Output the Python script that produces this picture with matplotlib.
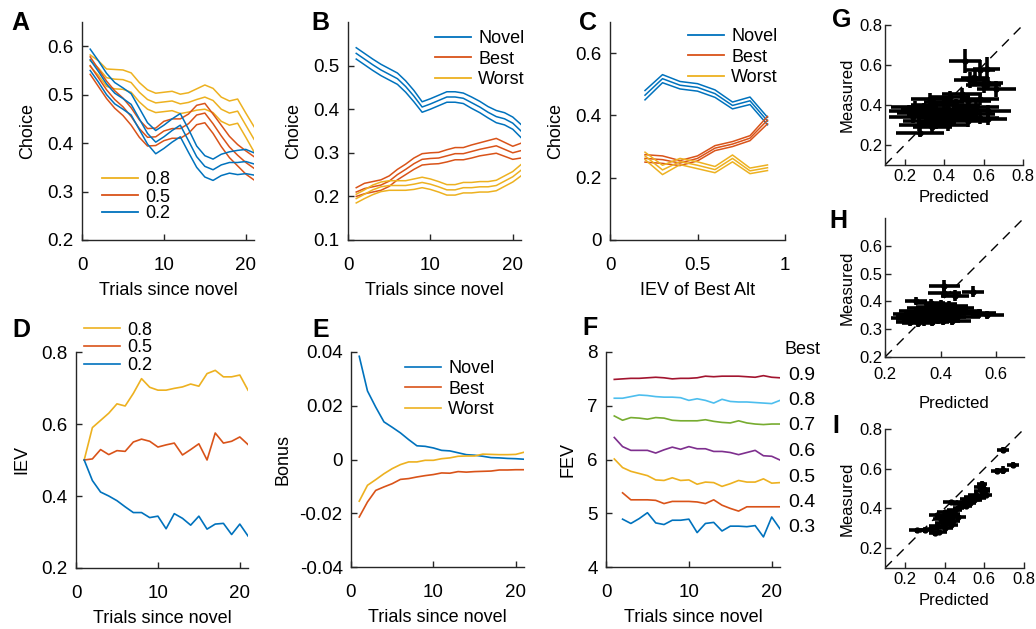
import matplotlib
matplotlib.use('Agg')
import matplotlib.pyplot as plt
from matplotlib.ticker import FuncFormatter
import numpy as np

plt.rcParams['font.family'] = ['Liberation Sans', 'DejaVu Sans']

BLUE = '#0072BD'
RED = '#D95319'
YELLOW = '#EDB120'
PURPLE = '#7E2F8E'
GREEN = '#77AC30'
LBLUE = '#4DBEEE'
DRED = '#A2142F'

trials = list(range(1, 22))

# panel A: choice of novel option by IEV of best alternative (mean +- se)
a_labels = ['0.8', '0.5', '0.2']
a_08 = [0.570, 0.555, 0.535, 0.532, 0.531, 0.525, 0.505, 0.490, 0.483, 0.485, 0.487,
        0.481, 0.484, 0.490, 0.495, 0.488, 0.470, 0.462, 0.466, 0.437, 0.408]
a_08_se = [0.012, 0.015, 0.018, 0.020, 0.020, 0.020, 0.020, 0.020, 0.020, 0.020, 0.020,
           0.020, 0.020, 0.022, 0.025, 0.025, 0.025, 0.025, 0.025, 0.025, 0.026]
a_05 = [0.560, 0.535, 0.510, 0.490, 0.475, 0.455, 0.430, 0.412, 0.413, 0.425, 0.430,
        0.430, 0.440, 0.458, 0.462, 0.440, 0.415, 0.392, 0.375, 0.360, 0.348]
a_05_se = [0.018, 0.018, 0.018, 0.018, 0.018, 0.018, 0.018, 0.018, 0.018, 0.020, 0.020,
           0.020, 0.020, 0.020, 0.020, 0.020, 0.022, 0.022, 0.022, 0.024, 0.024]
a_02 = [0.572, 0.548, 0.522, 0.503, 0.492, 0.480, 0.450, 0.420, 0.402, 0.413, 0.426,
        0.437, 0.405, 0.372, 0.352, 0.345, 0.355, 0.360, 0.360, 0.362, 0.357]
a_02_se = [0.022, 0.022, 0.022, 0.022, 0.022, 0.022, 0.022, 0.022, 0.024, 0.024, 0.024,
           0.024, 0.024, 0.022, 0.022, 0.022, 0.022, 0.022, 0.025, 0.025, 0.023]

# panel B: choice by option type
b_novel = [0.528, 0.515, 0.502, 0.490, 0.480, 0.470, 0.452, 0.430, 0.405, 0.412, 0.420,
           0.428, 0.428, 0.425, 0.415, 0.405, 0.393, 0.383, 0.378, 0.368, 0.350]
b_novel_se = [0.013, 0.013, 0.013, 0.013, 0.013, 0.013, 0.013, 0.013, 0.012, 0.012, 0.012,
              0.012, 0.012, 0.012, 0.013, 0.013, 0.013, 0.014, 0.014, 0.014, 0.015]
b_best = [0.210, 0.218, 0.222, 0.226, 0.235, 0.250, 0.262, 0.275, 0.285, 0.287, 0.288,
          0.293, 0.298, 0.298, 0.303, 0.308, 0.312, 0.316, 0.308, 0.300, 0.305]
b_best_se = [0.010, 0.012, 0.012, 0.012, 0.012, 0.012, 0.012, 0.013, 0.013, 0.013, 0.013,
             0.014, 0.014, 0.014, 0.015, 0.015, 0.016, 0.017, 0.016, 0.015, 0.017]
b_worst = [0.195, 0.205, 0.215, 0.222, 0.225, 0.225, 0.225, 0.228, 0.232, 0.228, 0.222,
           0.215, 0.215, 0.220, 0.220, 0.222, 0.222, 0.225, 0.235, 0.245, 0.260]
b_worst_se = [0.010, 0.010, 0.011, 0.011, 0.011, 0.011, 0.011, 0.012, 0.012, 0.012, 0.012,
              0.012, 0.012, 0.012, 0.012, 0.012, 0.012, 0.012, 0.012, 0.012, 0.013]

# panel C: choice vs IEV of best alternative
c_iev = [0.2, 0.3, 0.4, 0.5, 0.6, 0.7, 0.8, 0.9]
c_novel = [0.465, 0.518, 0.497, 0.490, 0.470, 0.432, 0.447, 0.382]
c_novel_se = [0.015, 0.013, 0.012, 0.012, 0.012, 0.011, 0.012, 0.012]
c_best = [0.262, 0.258, 0.247, 0.262, 0.295, 0.308, 0.327, 0.385]
c_best_se = [0.012, 0.012, 0.008, 0.008, 0.008, 0.008, 0.008, 0.012]
c_worst = [0.270, 0.225, 0.252, 0.240, 0.226, 0.262, 0.222, 0.232]
c_worst_se = [0.012, 0.015, 0.010, 0.011, 0.010, 0.011, 0.009, 0.009]

option_labels = ['Novel', 'Best', 'Worst']

# panel D: IEV of novel option
d_08 = [0.500, 0.590, 0.610, 0.630, 0.656, 0.650, 0.685, 0.726, 0.702, 0.694, 0.694,
        0.699, 0.703, 0.711, 0.705, 0.740, 0.749, 0.731, 0.731, 0.736, 0.694]
d_05 = [0.500, 0.503, 0.529, 0.515, 0.526, 0.524, 0.550, 0.558, 0.552, 0.536, 0.542,
        0.547, 0.514, 0.529, 0.545, 0.500, 0.575, 0.547, 0.552, 0.564, 0.543]
d_02 = [0.500, 0.443, 0.411, 0.400, 0.387, 0.370, 0.354, 0.354, 0.340, 0.344, 0.309,
        0.351, 0.338, 0.319, 0.344, 0.308, 0.322, 0.324, 0.293, 0.322, 0.289]

# panel E: exploration bonus
e_novel = [0.0384, 0.0255, 0.0195, 0.0140, 0.0120, 0.0099, 0.0074, 0.0051, 0.0049, 0.0043, 0.0034,
           0.0032, 0.0025, 0.0018, 0.0016, 0.0012, 0.0007, 0.0006, 0.0004, 0.0003, 0.0001]
e_best = [-0.0214, -0.0158, -0.0115, -0.0102, -0.0090, -0.0074, -0.0071, -0.0065, -0.0060, -0.0056, -0.0050,
          -0.0051, -0.0045, -0.0047, -0.0045, -0.0044, -0.0043, -0.0039, -0.0039, -0.0038, -0.0038]
e_worst = [-0.0155, -0.0096, -0.0075, -0.0053, -0.0034, -0.0019, -0.0009, -0.0009, -0.0003, -0.0003, 0.0003,
           0.0006, 0.0012, 0.0013, 0.0013, 0.0020, 0.0019, 0.0018, 0.0018, 0.0019, 0.0027]

# panel F: FEV by IEV of best alternative
f_labels = ['0.9', '0.8', '0.7', '0.6', '0.5', '0.4', '0.3']
f_09 = [7.49, 7.50, 7.51, 7.51, 7.52, 7.53, 7.52, 7.50, 7.51, 7.51, 7.52,
        7.55, 7.54, 7.55, 7.55, 7.55, 7.54, 7.53, 7.56, 7.53, 7.52]
f_08 = [7.14, 7.14, 7.17, 7.20, 7.19, 7.17, 7.16, 7.16, 7.15, 7.10, 7.13,
        7.10, 7.05, 7.12, 7.08, 7.07, 7.07, 7.06, 7.05, 7.04, 7.10]
f_07 = [6.81, 6.73, 6.78, 6.77, 6.75, 6.78, 6.77, 6.73, 6.72, 6.72, 6.72,
        6.74, 6.71, 6.69, 6.68, 6.72, 6.68, 6.66, 6.65, 6.66, 6.66]
f_06 = [6.41, 6.24, 6.17, 6.17, 6.17, 6.12, 6.18, 6.23, 6.19, 6.24, 6.20,
        6.20, 6.15, 6.15, 6.13, 6.09, 6.13, 6.17, 6.07, 6.06, 5.99]
f_05 = [6.01, 5.85, 5.78, 5.74, 5.70, 5.62, 5.61, 5.66, 5.61, 5.62, 5.54,
        5.58, 5.57, 5.50, 5.55, 5.61, 5.58, 5.58, 5.64, 5.56, 5.57]
f_04 = [np.nan, 5.38, 5.25, 5.25, 5.25, 5.24, 5.18, 5.22, 5.22, 5.22, 5.21,
        5.18, 5.25, 5.15, 5.09, 5.04, 5.12, 5.12, 5.12, 5.12, 5.12]
f_03 = [np.nan, 4.89, 4.81, 4.90, 5.01, 4.82, 4.79, 4.87, 4.87, 4.89, 4.64,
        4.81, 4.83, 4.67, 4.76, 4.76, 4.75, 4.77, 4.56, 4.93, 4.71]

# panel G: predicted vs measured
g_pred = [0.505, 0.580, 0.615, 0.530, 0.555, 0.600, 0.665, 0.620, 0.277, 0.490, 0.430,
          0.330, 0.580, 0.520, 0.400, 0.460, 0.350, 0.250, 0.560, 0.300, 0.420, 0.500,
          0.220, 0.360, 0.620, 0.450, 0.280, 0.400, 0.540, 0.330, 0.470, 0.240, 0.380,
          0.580, 0.440, 0.310, 0.520, 0.360, 0.620, 0.270, 0.420, 0.340]
g_meas = [0.620, 0.575, 0.580, 0.525, 0.535, 0.500, 0.480, 0.510, 0.260, 0.455, 0.440,
          0.430, 0.430, 0.420, 0.415, 0.400, 0.400, 0.390, 0.390, 0.380, 0.380, 0.375,
          0.370, 0.370, 0.370, 0.365, 0.360, 0.355, 0.355, 0.350, 0.345, 0.340, 0.335,
          0.335, 0.325, 0.320, 0.320, 0.310, 0.330, 0.300, 0.300, 0.290]
g_pred_err = [0.08, 0.08, 0.07, 0.08, 0.07, 0.09, 0.10, 0.08, 0.12, 0.10, 0.10,
              0.10, 0.10, 0.12, 0.10, 0.12, 0.12, 0.12, 0.12, 0.12, 0.11, 0.12,
              0.10, 0.12, 0.12, 0.12, 0.12, 0.12, 0.12, 0.12, 0.10, 0.12, 0.12,
              0.10, 0.12, 0.12, 0.10, 0.10, 0.10, 0.10, 0.10, 0.10]
g_meas_err = [0.06, 0.05, 0.06, 0.04, 0.04, 0.04, 0.04, 0.03, 0.02, 0.03, 0.03,
              0.03, 0.03, 0.03, 0.03, 0.03, 0.03, 0.03, 0.03, 0.03, 0.03, 0.03,
              0.03, 0.03, 0.03, 0.03, 0.03, 0.03, 0.03, 0.03, 0.03, 0.03, 0.03,
              0.03, 0.03, 0.03, 0.03, 0.03, 0.03, 0.03, 0.03, 0.03]

# panel H
h_pred = [0.413, 0.516, 0.413, 0.453, 0.311, 0.367, 0.539, 0.568, 0.400, 0.430, 0.380,
          0.450, 0.350, 0.420, 0.310, 0.390, 0.470, 0.340, 0.280, 0.430, 0.370, 0.300,
          0.410, 0.330, 0.460, 0.270, 0.360, 0.390, 0.310, 0.440, 0.340, 0.290, 0.370,
          0.320, 0.410]
h_meas = [0.456, 0.435, 0.432, 0.420, 0.402, 0.393, 0.357, 0.351, 0.390, 0.385, 0.380,
          0.375, 0.375, 0.370, 0.365, 0.365, 0.365, 0.360, 0.355, 0.355, 0.350, 0.348,
          0.345, 0.345, 0.345, 0.340, 0.338, 0.335, 0.335, 0.330, 0.328, 0.325, 0.325,
          0.322, 0.330]
h_pred_err = [0.055, 0.040, 0.060, 0.050, 0.040, 0.050, 0.060, 0.060, 0.060, 0.070, 0.070,
              0.070, 0.070, 0.080, 0.060, 0.080, 0.080, 0.070, 0.050, 0.090, 0.080, 0.060,
              0.080, 0.070, 0.080, 0.050, 0.070, 0.070, 0.070, 0.070, 0.070, 0.050, 0.060,
              0.060, 0.060]
h_meas_err = [0.020, 0.020, 0.020, 0.020, 0.015, 0.015, 0.015, 0.015, 0.015, 0.015, 0.015,
              0.015, 0.015, 0.015, 0.015, 0.015, 0.015, 0.015, 0.015, 0.015, 0.015, 0.015,
              0.015, 0.015, 0.015, 0.015, 0.015, 0.015, 0.015, 0.015, 0.015, 0.015, 0.015,
              0.015, 0.015]

# panel I
i_pred = [0.696, 0.665, 0.696, 0.746, 0.590, 0.580, 0.600, 0.590, 0.610, 0.560, 0.540,
          0.570, 0.520, 0.550, 0.500, 0.530, 0.430, 0.480, 0.510, 0.470, 0.450, 0.400,
          0.440, 0.360, 0.390, 0.420, 0.470, 0.380, 0.410, 0.440, 0.390, 0.430, 0.360,
          0.400, 0.330, 0.260, 0.300, 0.370, 0.350]
i_meas = [0.694, 0.590, 0.595, 0.618, 0.525, 0.510, 0.500, 0.490, 0.470, 0.470, 0.460,
          0.455, 0.450, 0.440, 0.430, 0.425, 0.430, 0.420, 0.410, 0.400, 0.390, 0.380,
          0.370, 0.365, 0.360, 0.355, 0.355, 0.345, 0.340, 0.335, 0.325, 0.315, 0.310,
          0.300, 0.295, 0.290, 0.290, 0.280, 0.275]
i_pred_err = [0.030, 0.030, 0.030, 0.030, 0.025, 0.030, 0.030, 0.040, 0.030, 0.040, 0.040,
              0.040, 0.040, 0.040, 0.040, 0.030, 0.040, 0.040, 0.030, 0.030, 0.040, 0.040,
              0.040, 0.040, 0.040, 0.040, 0.040, 0.040, 0.040, 0.040, 0.040, 0.040, 0.040,
              0.040, 0.040, 0.040, 0.040, 0.040, 0.030]
i_meas_err = [0.015, 0.015, 0.020, 0.015, 0.012, 0.012, 0.012, 0.012, 0.012, 0.012, 0.012,
              0.012, 0.012, 0.012, 0.012, 0.012, 0.012, 0.012, 0.012, 0.012, 0.012, 0.012,
              0.012, 0.012, 0.012, 0.012, 0.012, 0.012, 0.012, 0.012, 0.012, 0.012, 0.012,
              0.012, 0.012, 0.012, 0.012, 0.012, 0.012]

W, H = 1036, 629
fmt = FuncFormatter(lambda v, p: '%g' % round(v, 4))


def make_ax(left, top, right, bottom):
    return fig.add_axes([left / W, 1 - bottom / H, (right - left) / W, (bottom - top) / H])


def style(ax, xlim, ylim, xticks, yticks, fs=13.5, xpad=12, ypad=6):
    ax.set_xlim(xlim)
    ax.set_ylim(ylim)
    ax.set_xticks(xticks)
    ax.set_yticks(yticks)
    ax.xaxis.set_major_formatter(fmt)
    ax.yaxis.set_major_formatter(fmt)
    ax.spines['top'].set_visible(False)
    ax.spines['right'].set_visible(False)
    for s in ['left', 'bottom']:
        ax.spines[s].set_color('#262626')
        ax.spines[s].set_linewidth(1.0)
    ax.tick_params(direction='in', length=4, width=1, labelsize=fs, colors='#262626',
                   labelcolor='black')
    ax.tick_params(axis='x', pad=xpad)
    ax.tick_params(axis='y', pad=ypad)


def band(ax, x, m, se, c, lw=1.1):
    m = np.array(m)
    se = np.array(se)
    ax.plot(x, m + se, color=c, lw=lw)
    ax.plot(x, m, color=c, lw=lw)
    ax.plot(x, m - se, color=c, lw=lw)
    return ax.plot([], [], color=c, lw=1.3)[0]


def legend(ax, handles, labels, x, y, spacing, fs=13):
    ax.legend(handles, labels, loc='center left', bbox_to_anchor=(x / W, 1 - y / H),
              bbox_transform=fig.transFigure, frameon=False, fontsize=fs,
              handlelength=2.0, handletextpad=0.4, borderpad=0, borderaxespad=0,
              labelspacing=spacing)


fig = plt.figure(figsize=(W / 100, H / 100), dpi=100)

# A
ax = make_ax(82, 22, 254, 240)
h1 = band(ax, trials, a_08, a_08_se, YELLOW)
h2 = band(ax, trials, a_05, a_05_se, RED)
h3 = band(ax, trials, a_02, a_02_se, BLUE)
style(ax, (0, 21), (0.2, 0.65), [0, 10, 20], [0.2, 0.3, 0.4, 0.5, 0.6])
ax.set_xlabel('Trials since novel', fontsize=13, labelpad=6)
ax.set_ylabel('Choice', fontsize=13, labelpad=8)
legend(ax, [h1, h2, h3], a_labels, 102, 197, 0.0)

# B
ax = make_ax(348, 22, 521, 240)
h1 = band(ax, trials, b_novel, b_novel_se, BLUE)
h2 = band(ax, trials, b_best, b_best_se, RED)
h3 = band(ax, trials, b_worst, b_worst_se, YELLOW)
style(ax, (0, 21), (0.1, 0.6), [0, 10, 20], [0.1, 0.2, 0.3, 0.4, 0.5])
ax.set_xlabel('Trials since novel', fontsize=13, labelpad=6)
ax.set_ylabel('Choice', fontsize=13, labelpad=8)
legend(ax, [h1, h2, h3], option_labels, 435, 59, 0.2)

# C
ax = make_ax(610, 22, 785, 240)
h1 = band(ax, c_iev, c_novel, c_novel_se, BLUE)
h2 = band(ax, c_iev, c_best, c_best_se, RED)
h3 = band(ax, c_iev, c_worst, c_worst_se, YELLOW)
style(ax, (0, 1), (0, 0.7), [0, 0.5, 1], [0, 0.2, 0.4, 0.6])
ax.set_xlabel('IEV of Best Alt', fontsize=13, labelpad=6)
ax.set_ylabel('Choice', fontsize=13, labelpad=8)
legend(ax, [h1, h2, h3], option_labels, 688, 57, 0.2)

# D
ax = make_ax(76, 352, 248, 568)
h1, = ax.plot(trials, d_08, color=YELLOW, lw=1.2)
h2, = ax.plot(trials, d_05, color=RED, lw=1.2)
h3, = ax.plot(trials, d_02, color=BLUE, lw=1.2)
style(ax, (0, 21), (0.2, 0.8), [0, 10, 20], [0.2, 0.4, 0.6, 0.8])
ax.set_xlabel('Trials since novel', fontsize=13, labelpad=6)
ax.set_ylabel('IEV', fontsize=13, labelpad=8)
legend(ax, [h1, h2, h3], a_labels, 84, 348, 0.05)

# E
ax = make_ax(351, 352, 524, 567)
h1, = ax.plot(trials, e_novel, color=BLUE, lw=1.2)
h2, = ax.plot(trials, e_best, color=RED, lw=1.2)
h3, = ax.plot(trials, e_worst, color=YELLOW, lw=1.2)
style(ax, (0, 21), (-0.04, 0.04), [0, 10, 20], [-0.04, -0.02, 0, 0.02, 0.04])
ax.set_xlabel('Trials since novel', fontsize=13, labelpad=6)
ax.set_ylabel('Bonus', fontsize=13, labelpad=6)
legend(ax, [h1, h2, h3], option_labels, 405, 389, 0.2)

# F
ax = make_ax(606, 352, 780, 567)
f_series = [f_09, f_08, f_07, f_06, f_05, f_04, f_03]
f_colors = [DRED, LBLUE, GREEN, PURPLE, YELLOW, RED, BLUE]
for s, c in zip(f_series, f_colors):
    ax.plot(trials, s, color=c, lw=1.2)
style(ax, (0, 21), (4, 8), [0, 10, 20], [4, 5, 6, 7, 8])
ax.set_xlabel('Trials since novel', fontsize=13, labelpad=6)
ax.set_ylabel('FEV', fontsize=13, labelpad=8)
fig.text(785 / W, 1 - 350 / H, 'Best', fontsize=13, va='center', ha='left')
for k, lab in enumerate(f_labels):
    fig.text(788 / W, 1 - (375 + 25.5 * k) / H, lab, fontsize=14, va='center', ha='left')


# G, H, I
def scatter_panel(ax, px, py, pxe, pye, lim, ticks_x, ticks_y, xpad=3):
    ax.plot(lim, lim, color='black', lw=1.0, dashes=(7, 5))
    ax.errorbar(px, py, xerr=pxe, yerr=pye, fmt='o', color='black', ms=3.5,
                elinewidth=2.6, capsize=0)
    style(ax, lim, lim, ticks_x, ticks_y, fs=12, xpad=xpad, ypad=2)
    ax.set_xlabel('Predicted', fontsize=12, labelpad=4)
    ax.set_ylabel('Measured', fontsize=12, labelpad=3)


ax = make_ax(885, 25, 1023, 165)
scatter_panel(ax, g_pred, g_meas, g_pred_err, g_meas_err, (0.1, 0.8),
              [0.2, 0.4, 0.6, 0.8], [0.2, 0.4, 0.6, 0.8])

ax = make_ax(885, 218, 1024, 357)
scatter_panel(ax, h_pred, h_meas, h_pred_err, h_meas_err, (0.2, 0.7),
              [0.2, 0.4, 0.6], [0.2, 0.3, 0.4, 0.5, 0.6], xpad=7)
ax.xaxis.labelpad = 10

ax = make_ax(885, 429, 1024, 568)
scatter_panel(ax, i_pred, i_meas, i_pred_err, i_meas_err, (0.1, 0.8),
              [0.2, 0.4, 0.6, 0.8], [0.2, 0.4, 0.6, 0.8])

# panel letters
letters = ['A', 'B', 'C', 'D', 'E', 'F', 'G', 'H', 'I']
letter_pos = [(11, 11), (311, 11), (579, 11), (12, 318), (312, 318), (582, 316),
              (832, 8), (829, 209), (832, 414)]
for lab, (lx, ly) in zip(letters, letter_pos):
    fig.text(lx / W, 1 - ly / H, lab, fontsize=18, fontweight='bold', va='top', ha='left')

fig.savefig('out.png', dpi=100)
